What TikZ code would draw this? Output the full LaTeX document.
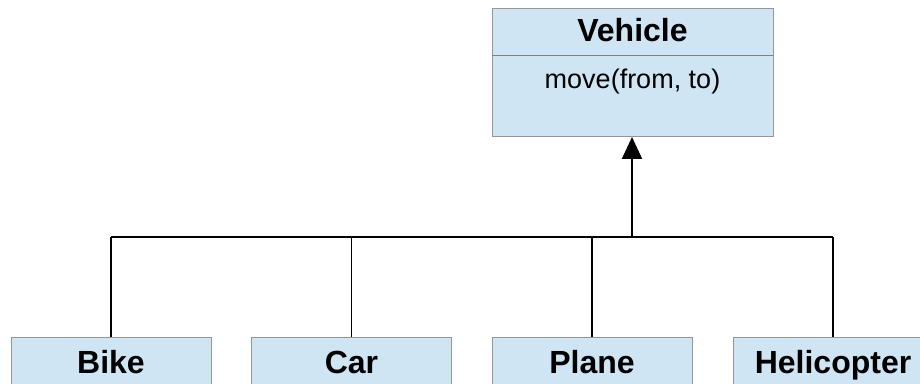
\documentclass[tikz,border=0pt]{standalone}
\usepackage{fontspec}
\setmainfont{Liberation Sans}
\usetikzlibrary{arrows.meta}
\definecolor{boxfill}{RGB}{207,229,243}
\definecolor{boxline}{RGB}{150,150,150}
\definecolor{divline}{RGB}{128,128,128}
\tikzset{
  classbox/.style={draw=boxline, fill=boxfill, line width=1pt, inner sep=0pt},
  childbox/.style={classbox, minimum width=200pt, minimum height=48pt, anchor=north,
    text height=23pt, text depth=0pt,
    font=\fontsize{32}{38}\selectfont\bfseries},
  titletext/.style={font=\fontsize{32}{38}\selectfont\bfseries, inner sep=0pt, anchor=base},
  bodytext/.style={font=\fontsize{27}{32}\selectfont, inner sep=0pt, anchor=base},
  busline/.style={line width=2pt, black},
  dropline/.style={line width=1.6pt, black},
  inherit/.style={line width=2pt, black, -{Triangle[width=20pt,length=22pt]}}
}
\begin{document}
\begin{tikzpicture}[x=1pt,y=1pt]
\useasboundingbox (0,0) rectangle (920,383);
\clip (0,0) rectangle (920,383);
% parent class
\node[classbox, minimum width=281pt, minimum height=128pt, anchor=north west] (veh) at (492,375) {};
\draw[divline, line width=1pt] (492,327) -- (773,327);
\node[titletext] (vehtitle) at (632.5,341.5) {Vehicle};
\node[bodytext] (vehop) at (632.5,294) {move(from, to)};
% child classes
\node[childbox] (bike) at (111,46) {Bike};
\node[childbox] (car) at (351.5,46) {Car};
\node[childbox] (plane) at (592,46) {Plane};
\node[childbox] (heli) at (833,46) {Helicopter};
% connectors
\coordinate (bus) at (632,146);
\draw[busline] (bike.north |- bus) -- (heli.north |- bus);
\draw[dropline] (bike.north) -- (bike.north |- bus);
\draw[dropline] (car.north) -- (car.north |- bus);
\draw[dropline] (plane.north) -- (plane.north |- bus);
\draw[dropline] (heli.north) -- (heli.north |- bus);
\draw[inherit] (bus) -- (bus |- veh.south);
\end{tikzpicture}
\end{document}
